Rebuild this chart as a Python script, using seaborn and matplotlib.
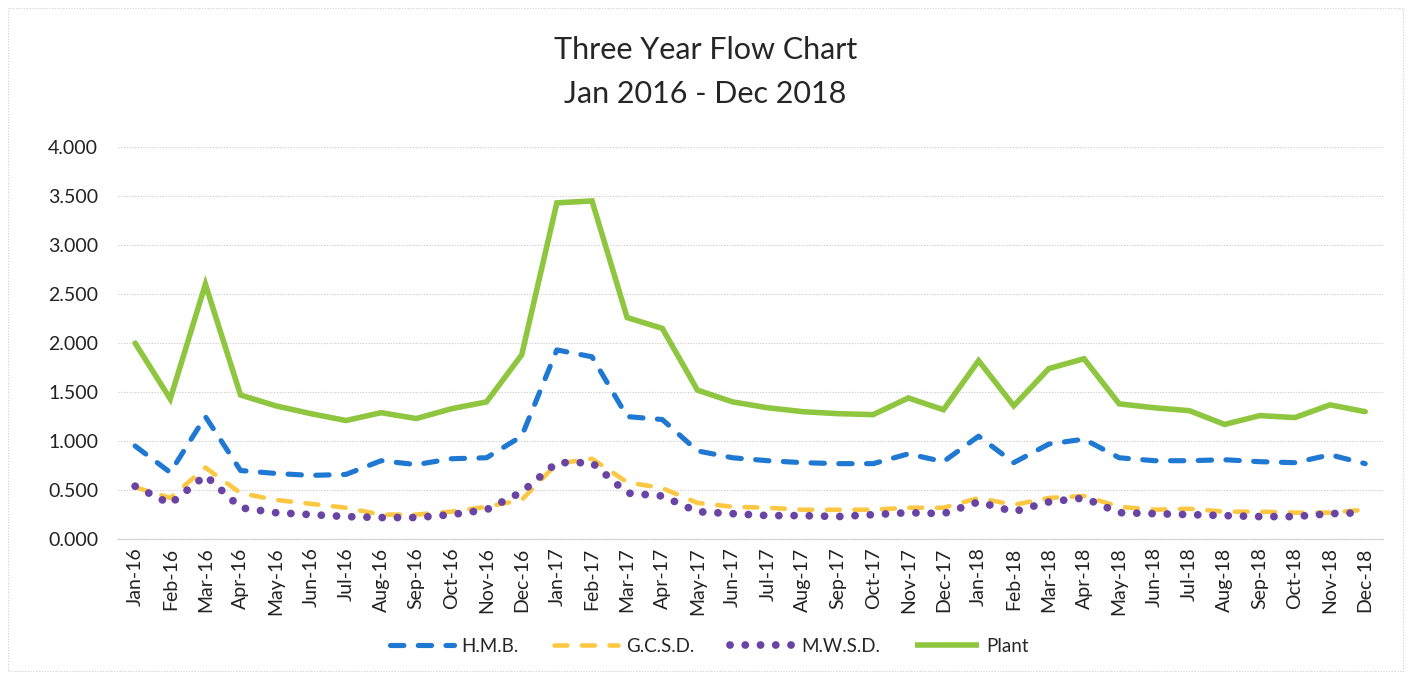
import numpy as np
import pandas as pd
import matplotlib
matplotlib.use("Agg")
import matplotlib.pyplot as plt
from matplotlib.patches import Rectangle
from matplotlib.lines import Line2D
import seaborn as sns

months = ["Jan", "Feb", "Mar", "Apr", "May", "Jun",
          "Jul", "Aug", "Sep", "Oct", "Nov", "Dec"]
categories = [f"{m}-{y}" for y in ("16", "17", "18") for m in months]

hmb = [0.95, 0.68, 1.25, 0.70, 0.67, 0.65, 0.66, 0.80, 0.76, 0.82, 0.83, 1.05,
       1.93, 1.86, 1.25, 1.22, 0.90, 0.83, 0.80, 0.78, 0.77, 0.77, 0.87, 0.79,
       1.05, 0.78, 0.97, 1.02, 0.83, 0.80, 0.80, 0.81, 0.79, 0.78, 0.86, 0.77]
gcsd = [0.53, 0.42, 0.73, 0.47, 0.40, 0.36, 0.32, 0.25, 0.25, 0.28, 0.33, 0.40,
        0.77, 0.82, 0.58, 0.52, 0.37, 0.33, 0.32, 0.30, 0.30, 0.30, 0.32, 0.32,
        0.42, 0.35, 0.42, 0.44, 0.33, 0.30, 0.31, 0.28, 0.28, 0.27, 0.27, 0.30]
mwsd = [0.54, 0.36, 0.65, 0.32, 0.27, 0.25, 0.23, 0.22, 0.22, 0.25, 0.30, 0.48,
        0.78, 0.78, 0.47, 0.44, 0.28, 0.26, 0.24, 0.24, 0.23, 0.25, 0.27, 0.26,
        0.38, 0.28, 0.38, 0.42, 0.27, 0.26, 0.25, 0.24, 0.23, 0.23, 0.26, 0.27]
plant = [2.00, 1.43, 2.60, 1.47, 1.36, 1.28, 1.21, 1.29, 1.23, 1.33, 1.40, 1.88,
         3.43, 3.45, 2.26, 2.15, 1.52, 1.40, 1.34, 1.30, 1.28, 1.27, 1.44, 1.32,
         1.82, 1.36, 1.74, 1.84, 1.38, 1.34, 1.31, 1.17, 1.26, 1.24, 1.37, 1.30]

series_names = ["H.M.B.", "G.C.S.D.", "M.W.S.D.", "Plant"]
series_values = [hmb, gcsd, mwsd, plant]
y_ticks = [0.0, 0.5, 1.0, 1.5, 2.0, 2.5, 3.0, 3.5, 4.0]

sns.set_theme(style="white")
plt.rcParams["font.family"] = ["Lato", "DejaVu Sans"]

styles = {
    "H.M.B.":   dict(color="#1f78d1", lw=3.7, dashes=(2.6, 2.8)),
    "G.C.S.D.": dict(color="#fcc844", lw=3.3, dashes=(2.8, 3.2)),
    "M.W.S.D.": dict(color="#6a44a4", lw=5.6, dashes=(0.01, 1.95)),
    "Plant":    dict(color="#8fc640", lw=4.0, dashes=None),
}

x = np.arange(len(categories))
df = pd.DataFrame({"idx": np.tile(x, 4),
                   "value": np.concatenate(series_values),
                   "series": np.repeat(series_names, len(categories))})

fig = plt.figure(figsize=(14.11, 6.79), dpi=100)
ax = fig.add_axes([0.0833, 0.206, 0.8967, 0.5775])

handles = []
for name in series_names:
    st = styles[name]
    sub = df[df["series"] == name]
    sns.lineplot(data=sub, x="idx", y="value", ax=ax, color=st["color"],
                 linewidth=st["lw"], legend=False, sort=False)
    line = ax.lines[-1]
    if st["dashes"] is not None:
        line.set_dashes(st["dashes"])
    line.set_dash_capstyle("round")
    line.set_solid_capstyle("round")
    line.set_solid_joinstyle("miter")
    h = Line2D([0], [0], color=st["color"], lw=st["lw"],
               dash_capstyle="round", solid_capstyle="butt")
    if st["dashes"] is not None:
        h.set_dashes(st["dashes"])
    handles.append(h)

ax.set_xlim(-0.5, len(categories) - 0.5)
ax.set_ylim(0, 4.0)
ax.set_yticks(y_ticks)
ax.set_yticklabels([f"{v:.3f}" for v in y_ticks], fontsize=14, color="#222222")
ax.set_xticks(x)
ax.set_xticklabels(categories, rotation=90, fontsize=14, color="#222222")
ax.set_xticks(np.arange(-0.5, len(categories), 1.0), minor=True)
ax.tick_params(axis="x", which="major", length=0, pad=6)
ax.tick_params(axis="x", which="minor", length=4, color="#c8c8c8", width=0.8)
ax.tick_params(axis="y", length=0, pad=14)
ax.set_xlabel("")
ax.set_ylabel("")

ax.grid(axis="y", color="#c8c8c8", linestyle=(0, (1, 1.5)), linewidth=0.8)
ax.grid(axis="x", visible=False)
ax.set_axisbelow(True)
for side in ("top", "left", "right"):
    ax.spines[side].set_visible(False)
ax.spines["bottom"].set_color("#c8c8c8")
ax.spines["bottom"].set_linestyle((0, (1, 1.5)))
ax.spines["bottom"].set_linewidth(0.8)

fig.text(0.5, 0.926, "Three Year Flow Chart", ha="center", va="center",
         fontsize=22, color="#262626")
fig.text(0.5, 0.862, "Jan 2016 - Dec 2018", ha="center", va="center",
         fontsize=22, color="#262626")

fig.legend(handles, series_names, loc="center", bbox_to_anchor=(0.503, 0.048),
           ncol=4, frameon=False, fontsize=13.5, handlelength=3.4,
           columnspacing=1.9, handletextpad=0.4)

fig.patches.append(Rectangle((0.006, 0.012), 0.988, 0.976, transform=fig.transFigure,
                             fill=False, edgecolor="#d0d0d0", linewidth=0.8,
                             linestyle=(0, (1, 1.5))))

fig.savefig("out.png", dpi=100)
